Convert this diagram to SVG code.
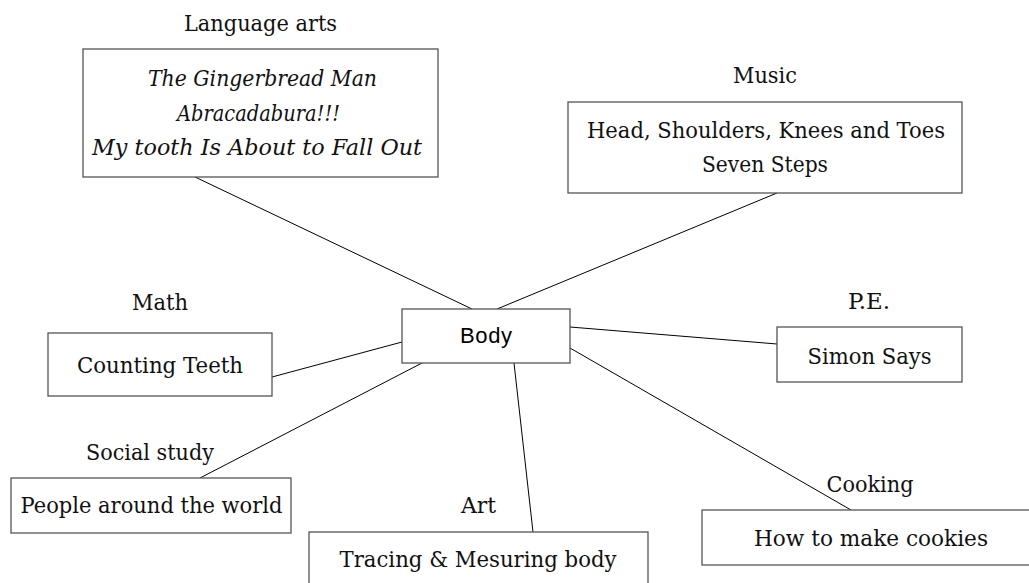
<svg xmlns="http://www.w3.org/2000/svg" width="1029" height="583" viewBox="0 0 1029 583">
<style>
.box{fill:#fff;stroke:#555;stroke-width:1.3}
.t{font-family:'DejaVu Serif','Liberation Serif',serif;font-size:22px;fill:#111;text-anchor:middle}
.i{font-style:italic}
.s{font-family:'Liberation Sans',Arial,sans-serif;font-size:22px;fill:#000;text-anchor:middle}
.c{stroke:#000;stroke-width:1;fill:none}
</style>
<rect width="1029" height="583" fill="#fff"/>
<g id="connectors">
<line class="c" x1="195" y1="177" x2="472" y2="309"/>
<line class="c" x1="777" y1="193" x2="497" y2="309"/>
<line class="c" x1="272" y1="377" x2="402" y2="342"/>
<line class="c" x1="570" y1="327" x2="777" y2="344"/>
<line class="c" x1="570" y1="348" x2="851" y2="510"/>
<line class="c" x1="422" y1="363" x2="200" y2="478"/>
<line class="c" x1="514" y1="363" x2="533" y2="532"/>
</g>
<g id="language-arts">
<text class="t" x="260.5" y="31" textLength="153" lengthAdjust="spacingAndGlyphs">Language arts</text>
<rect class="box" x="83" y="49" width="355" height="128"/>
<text class="t i" x="262.5" y="86" textLength="229" lengthAdjust="spacingAndGlyphs">The Gingerbread Man</text>
<text class="t i" x="258.5" y="121" textLength="163" lengthAdjust="spacingAndGlyphs">Abracadabura!!!</text>
<text class="t i" x="257" y="155" textLength="330" lengthAdjust="spacingAndGlyphs">My tooth Is About to Fall Out</text>
</g>
<g id="music">
<text class="t" x="765" y="83" textLength="64" lengthAdjust="spacingAndGlyphs">Music</text>
<rect class="box" x="568" y="102" width="394" height="91"/>
<text class="t" x="766" y="138" textLength="358" lengthAdjust="spacingAndGlyphs">Head, Shoulders, Knees and Toes</text>
<text class="t" x="765" y="172" textLength="126" lengthAdjust="spacingAndGlyphs">Seven Steps</text>
</g>
<g id="math">
<text class="t" x="160" y="310" textLength="56" lengthAdjust="spacingAndGlyphs">Math</text>
<rect class="box" x="48" y="333" width="224" height="63"/>
<text class="t" x="160" y="373" textLength="166" lengthAdjust="spacingAndGlyphs">Counting Teeth</text>
</g>
<g id="body">
<rect class="box" x="402" y="309" width="168" height="54"/>
<text class="s" x="486" y="343" textLength="52" lengthAdjust="spacing">Body</text>
</g>
<g id="pe">
<text class="t" x="869" y="309" textLength="42" lengthAdjust="spacingAndGlyphs">P.E.</text>
<rect class="box" x="777" y="327" width="185" height="55"/>
<text class="t" x="869.5" y="363.5" textLength="124" lengthAdjust="spacingAndGlyphs">Simon Says</text>
</g>
<g id="social-study">
<text class="t" x="150" y="460" textLength="128" lengthAdjust="spacingAndGlyphs">Social study</text>
<rect class="box" x="11" y="478" width="280" height="55"/>
<text class="t" x="151.5" y="513" textLength="262" lengthAdjust="spacingAndGlyphs">People around the world</text>
</g>
<g id="art">
<text class="t" x="478.5" y="513" textLength="35" lengthAdjust="spacingAndGlyphs">Art</text>
<rect class="box" x="309" y="532" width="339" height="60"/>
<text class="t" x="478" y="567" textLength="277" lengthAdjust="spacingAndGlyphs">Tracing &amp; Mesuring body</text>
</g>
<g id="cooking">
<text class="t" x="870" y="492" textLength="87" lengthAdjust="spacingAndGlyphs">Cooking</text>
<rect class="box" x="702" y="510" width="340" height="55"/>
<text class="t" x="871" y="546" textLength="234" lengthAdjust="spacingAndGlyphs">How to make cookies</text>
</g>
</svg>
